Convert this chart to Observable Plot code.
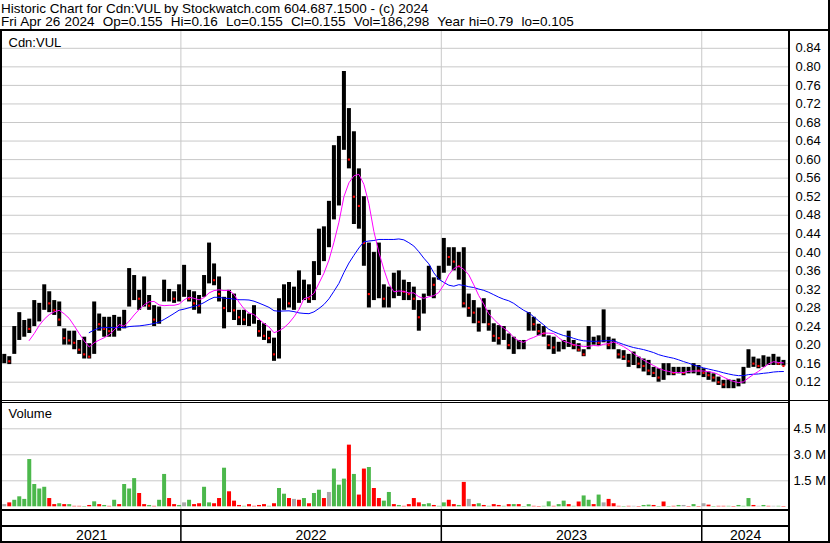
<!DOCTYPE html>
<html><head><meta charset="utf-8">
<script src="https://cdn.jsdelivr.net/npm/d3@7"></script>
<script src="https://cdn.jsdelivr.net/npm/@observablehq/plot@0.6"></script>
<style>
body{margin:0;background:#fff;}
#root{position:relative;width:830px;height:543px;overflow:hidden;background:#fff;font-family:"Liberation Sans",Arial,sans-serif;color:#000;}
.t{position:absolute;font-size:13px;line-height:15px;white-space:pre;}
.b{position:absolute;background:#000;}
.p{position:absolute;left:0;}
</style></head><body><div id="root"></div>
<script>
const title = "Historic Chart for Cdn:VUL by Stockwatch.com 604.687.1500 - (c) 2024";
const subtitle = "Fri Apr 26 2024  Op=0.155  Hi=0.16  Lo=0.155  Cl=0.155  Vol=186,298  Year hi=0.79  lo=0.105";
const symbolLabel = "Cdn:VUL";
const volumeLabel = "Volume";
const firstWeek = "2021-04-26";
const xDomain = ["2021-04-26", "2024-05-03"];
const yearTicks = ["2022-01-01", "2023-01-01", "2024-01-01"];
const yearLabels = ["2021", "2022", "2023", "2024"];
const priceTicks = [0.12,0.16,0.20,0.24,0.28,0.32,0.36,0.40,0.44,0.48,0.52,0.56,0.60,0.64,0.68,0.72,0.76,0.80,0.84];
const volTicks = [1.5, 3.0, 4.5];

const weekHigh = [0.18,0.175,0.24,0.27,0.253,0.256,0.296,0.29,0.33,0.315,
0.296,0.293,0.235,0.23,0.23,0.21,0.217,0.203,0.293,0.267,
0.26,0.26,0.264,0.26,0.275,0.365,0.35,0.318,0.347,0.307,
0.285,0.282,0.34,0.32,0.315,0.33,0.372,0.318,0.315,0.307,
0.35,0.42,0.375,0.347,0.303,0.318,0.31,0.275,0.275,0.267,
0.285,0.253,0.246,0.23,0.215,0.30,0.33,0.335,0.325,0.36,
0.34,0.33,0.38,0.45,0.455,0.51,0.63,0.65,0.79,0.71,
0.66,0.58,0.52,0.42,0.40,0.42,0.33,0.325,0.355,0.36,
0.34,0.335,0.325,0.296,0.31,0.37,0.345,0.37,0.43,0.41,
0.41,0.40,0.41,0.31,0.296,0.28,0.30,0.275,0.246,0.242,
0.24,0.224,0.217,0.21,0.21,0.27,0.26,0.245,0.24,0.22,
0.217,0.206,0.21,0.23,0.21,0.203,0.19,0.24,0.217,0.22,
0.276,0.217,0.213,0.19,0.188,0.18,0.185,0.174,0.17,0.167,
0.152,0.149,0.16,0.16,0.152,0.152,0.152,0.152,0.16,0.156,
0.149,0.142,0.138,0.131,0.124,0.125,0.124,0.127,0.152,0.19,
0.174,0.17,0.177,0.174,0.18,0.174,0.167];
const weekLow = [0.16,0.158,0.18,0.21,0.217,0.225,0.24,0.25,0.275,0.27,
0.264,0.24,0.20,0.20,0.19,0.18,0.17,0.17,0.18,0.23,
0.217,0.217,0.217,0.23,0.235,0.282,0.296,0.275,0.282,0.275,
0.24,0.245,0.293,0.293,0.29,0.293,0.303,0.293,0.275,0.267,
0.303,0.332,0.328,0.293,0.235,0.27,0.253,0.242,0.242,0.24,
0.245,0.217,0.21,0.203,0.165,0.17,0.275,0.28,0.275,0.29,
0.296,0.29,0.296,0.35,0.38,0.41,0.47,0.50,0.62,0.58,
0.46,0.45,0.37,0.28,0.296,0.30,0.28,0.28,0.30,0.305,
0.296,0.296,0.275,0.23,0.267,0.305,0.30,0.34,0.355,0.37,
0.36,0.34,0.28,0.26,0.246,0.228,0.246,0.23,0.206,0.20,
0.21,0.19,0.18,0.19,0.19,0.23,0.23,0.22,0.217,0.19,
0.18,0.185,0.19,0.195,0.19,0.185,0.175,0.19,0.20,0.198,
0.205,0.19,0.19,0.17,0.167,0.152,0.156,0.149,0.142,0.134,
0.13,0.12,0.124,0.134,0.134,0.138,0.134,0.138,0.138,0.134,
0.13,0.124,0.12,0.113,0.106,0.106,0.106,0.11,0.116,0.15,
0.152,0.149,0.152,0.156,0.156,0.156,0.155];
const weekClose = [0.17,0.165,0.22,0.23,0.24,0.235,0.26,0.27,0.30,0.29,
0.275,0.255,0.215,0.21,0.205,0.19,0.18,0.175,0.27,0.245,
0.235,0.23,0.24,0.245,0.25,0.31,0.315,0.30,0.30,0.285,
0.255,0.265,0.305,0.305,0.30,0.30,0.31,0.30,0.29,0.285,
0.33,0.36,0.34,0.31,0.28,0.29,0.275,0.26,0.255,0.255,
0.26,0.23,0.22,0.215,0.18,0.28,0.30,0.29,0.30,0.31,
0.32,0.30,0.35,0.42,0.43,0.48,0.55,0.56,0.68,0.60,
0.52,0.50,0.42,0.31,0.32,0.33,0.30,0.31,0.32,0.32,
0.315,0.31,0.30,0.26,0.30,0.34,0.33,0.35,0.40,0.39,
0.38,0.37,0.29,0.28,0.27,0.25,0.27,0.245,0.22,0.215,
0.22,0.20,0.20,0.20,0.20,0.255,0.245,0.23,0.225,0.20,
0.195,0.20,0.20,0.21,0.20,0.19,0.18,0.205,0.21,0.205,
0.22,0.20,0.20,0.18,0.175,0.165,0.17,0.16,0.155,0.145,
0.14,0.13,0.145,0.145,0.14,0.145,0.14,0.145,0.15,0.145,
0.14,0.135,0.13,0.12,0.115,0.115,0.115,0.12,0.14,0.17,
0.16,0.155,0.165,0.165,0.17,0.16,0.155];
const weekVolM = [0.3,0.4,0.55,0.75,0.6,2.9,1.46,1.2,1.3,0.65,
0.3,0.35,0.3,0.3,0.2,0.2,0.15,0.25,0.46,0.3,
0.25,0.2,0.55,0.3,1.46,1.2,1.8,0.94,0.3,0.25,
0.2,0.55,2.04,0.65,0.3,0.25,0.4,0.55,0.3,0.35,
1.3,0.4,0.35,0.65,2.4,1.04,0.5,0.25,0.2,0.3,
0.2,0.25,0.3,0.2,0.35,1.23,0.9,0.65,0.6,0.55,
0.65,0.35,0.94,1.13,0.65,1.0,2.35,1.42,1.77,3.73,
2.04,0.85,2.35,2.44,1.23,0.65,0.5,1.0,0.3,0.25,
0.2,0.3,0.65,0.4,0.3,0.35,0.25,0.2,0.4,0.55,
0.3,0.25,1.58,0.6,0.3,0.35,0.25,0.2,0.3,0.25,
0.2,0.3,0.3,0.3,0.15,0.3,0.2,0.15,0.2,0.46,
0.2,0.3,0.5,0.3,0.2,0.45,0.8,0.55,0.3,0.85,
0.4,0.6,0.35,0.2,0.15,0.2,0.2,0.15,0.25,0.27,
0.25,0.15,0.45,0.15,0.2,0.25,0.25,0.15,0.3,0.15,
0.35,0.27,0.15,0.2,0.2,0.2,0.15,0.25,0.2,0.65,
0.25,0.2,0.25,0.2,0.2,0.2,0.15];
const weekVolDir = "nrgggggggr" + "rgrgrrgrgr" + "grgrgggrrg" + "rggrrgngrr" + "ggrrgrrrgr" +
  "rrrgrggrnr" + "grggrngggr" + "grrgrrggrg" + "rrrrggrggr" + "rgrnrgrgrr" +
  "grgrggrrgg" + "rggrgrggrg" + "nrrrgrnrgg" + "rgrgrgnrgr" + "nrgrrgrggg" + "rngrngr";

const dirColor = {g: "#4cb84c", r: "#ff0000", n: "#a8a8a8"};
const FONT = '"Liberation Sans", Arial, sans-serif';

const start = new Date(firstWeek + "T00:00:00Z");
const weeks = weekHigh.map((hi, i) => ({
  date: new Date(+start + (i * 7 + 2.5) * 864e5),
  hi, lo: weekLow[i], close: weekClose[i], vol: weekVolM[i], dir: weekVolDir[i],
  down: i > 0 && weekClose[i] < weekClose[i - 1]
}));
const xDom = xDomain.map(d => new Date(d + "T00:00:00Z"));
const yearDates = yearTicks.map(d => new Date(d + "T00:00:00Z"));
const bounds = [xDom[0], ...yearDates, xDom[1]];
const yearMid = yearLabels.map((label, i) => ({label, date: new Date((+bounds[i] + +bounds[i + 1]) / 2)}));

const xScale = {type: "utc", domain: xDom, range: [2, 789], axis: null};
const common = {width: 830, marginLeft: 2, marginRight: 41, marginTop: 0, marginBottom: 0,
  style: {fontFamily: FONT, fontSize: "13px", color: "#000", background: "transparent", overflow: "visible"}};

const root = document.getElementById("root");
function add(el, top) { const d = document.createElement("div"); d.className = "p"; d.style.top = top + "px"; d.appendChild(el); root.appendChild(d); }
function box(l, t, w, h) { const d = document.createElement("div"); d.className = "b"; Object.assign(d.style, {left: l + "px", top: t + "px", width: w + "px", height: h + "px"}); root.appendChild(d); }
function txt(s, l, t, size, ws) { const d = document.createElement("div"); d.className = "t"; d.textContent = s; d.style.left = l + "px"; d.style.top = t + "px"; if (size) d.style.fontSize = size + "px"; if (ws) d.style.wordSpacing = ws + "px"; root.appendChild(d); }

const price = Plot.plot({
  ...common, height: 370,
  x: xScale,
  y: {domain: [0.12, 0.84], range: [350.7, 16.8], axis: null},
  marks: [
    Plot.gridY(priceTicks, {stroke: "#c8c8c8", strokeOpacity: 1}),
    Plot.ruleX(yearDates, {stroke: "#c8c8c8", strokeOpacity: 1}),
    Plot.ruleX(weeks, {x: "date", y1: "lo", y2: "hi", stroke: "#000", strokeWidth: 4}),
    Plot.dot(weeks.filter(d => d.down), {x: "date", y: "close", symbol: "square", r: 1.2, fill: "#ff0000", stroke: "none"}),
    Plot.lineY(weeks, Plot.windowY({k: 18, anchor: "end", strict: true}, {x: "date", y: "close", stroke: "#0000ff", strokeWidth: 1})),
    Plot.lineY(weeks, Plot.windowY({k: 6, anchor: "end", strict: true}, {x: "date", y: "close", stroke: "#ff00ff", strokeWidth: 1})),
    Plot.axisY(priceTicks, {anchor: "right", tickSize: 0, tickPadding: 6, tickFormat: d => d.toFixed(2), fontSize: 13, label: null})
  ]
});
add(price, 31);

const volume = Plot.plot({
  ...common, height: 106,
  x: xScale,
  y: {domain: [0, 4.5], range: [103.3, 25.3], axis: null},
  color: {type: "identity"},
  marks: [
    Plot.gridY(volTicks, {stroke: "#c8c8c8", strokeOpacity: 1}),
    Plot.ruleX(yearDates, {stroke: "#c8c8c8", strokeOpacity: 1}),
    Plot.ruleX(weeks, {x: "date", y1: 0, y2: "vol", stroke: d => dirColor[d.dir], strokeWidth: 4, insetBottom: -3}),
    Plot.axisY(volTicks, {anchor: "right", tickSize: 0, tickPadding: 4, tickFormat: d => d.toFixed(1) + " M", fontSize: 13, label: null})
  ]
});
add(volume, 403);

const strip = Plot.plot({
  ...common, height: 30,
  x: xScale,
  marks: [
    Plot.ruleX(yearDates, {stroke: "#000", strokeWidth: 1.5}),
    Plot.text(yearMid, {x: "date", text: "label", frameAnchor: "middle", dy: 9, fontSize: 14, fill: "#000"})
  ]
});
add(strip, 511);

txt(title, 1, 0.5, 13.5);
txt(subtitle, 1, 14, 13.5, 0.4);
txt(symbolLabel, 8.5, 35);
txt(volumeLabel, 8.5, 406);

box(0, 29, 830, 2);
box(828, 0, 2, 543);
box(0, 29, 2, 514);
box(788, 29, 2, 514);
box(0, 400, 830, 1);
box(0, 402, 790, 1);
box(0, 509, 790, 2);
box(0, 525, 790, 2);
box(0, 541, 830, 2);
</script></body></html>
